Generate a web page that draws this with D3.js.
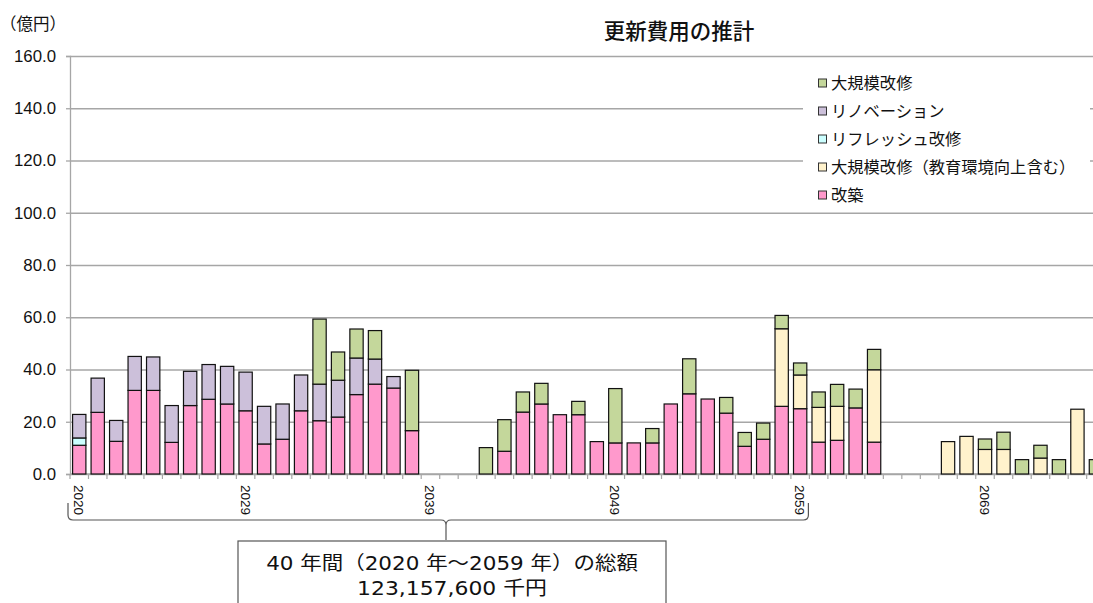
<!DOCTYPE html>
<html>
<head>
<meta charset="utf-8">
<script src="https://cdn.jsdelivr.net/npm/d3@7"></script>
<style>
  html, body { margin: 0; padding: 0; background: #fff; overflow: hidden; }
  svg { display: block; }
  .jp { font-family: "Noto Sans CJK JP", "Noto Sans", sans-serif; }
  .mix { font-family: "DejaVu Sans", "Noto Sans CJK JP", sans-serif; }
  .num { font-family: "Liberation Sans", Arial, sans-serif; }
</style>
</head>
<body>
<svg id="chart" width="1093" height="603"></svg>
<script>
// Years on the category axis (the axis runs past the visible area)
const years = d3.range(2020, 2080);

// Segment values, 億円, one entry per year starting at 2020
const kaichiku = [11.0, 23.6, 12.5, 32.0, 32.0, 12.1, 26.2, 28.6, 26.8, 24.2,
                  11.5, 13.3, 24.2, 20.4, 21.8, 30.4, 34.4, 32.9, 16.6, 0,
                  0, 0, 0, 8.7, 23.7, 26.8, 22.7, 22.7, 12.4, 11.9,
                  11.9, 11.9, 26.8, 30.7, 28.7, 23.3, 10.6, 13.3, 25.9, 25.0,
                  12.2, 12.9, 25.3, 12.2, 0, 0, 0, 0, 0, 0,
                  0, 0, 0, 0, 0, 0, 0, 0, 0, 0];
const kyouiku  = [0, 0, 0, 0, 0, 0, 0, 0, 0, 0,
                  0, 0, 0, 0, 0, 0, 0, 0, 0, 0,
                  0, 0, 0, 0, 0, 0, 0, 0, 0, 0,
                  0, 0, 0, 0, 0, 0, 0, 0, 29.7, 12.9,
                  13.3, 13.0, 0, 27.7, 0, 0, 0, 12.4, 14.4, 9.4,
                  9.4, 0, 6.1, 0, 24.8, 0, 0, 0, 0, 0];
const refresh  = [2.8, 0, 0, 0, 0, 0, 0, 0, 0, 0,
                  0, 0, 0, 0, 0, 0, 0, 0, 0, 0,
                  0, 0, 0, 0, 0, 0, 0, 0, 0, 0,
                  0, 0, 0, 0, 0, 0, 0, 0, 0, 0,
                  0, 0, 0, 0, 0, 0, 0, 0, 0, 0,
                  0, 0, 0, 0, 0, 0, 0, 0, 0, 0];
const renovation = [9.0, 13.1, 8.0, 13.0, 12.8, 14.1, 13.1, 13.3, 14.4, 14.8,
                  14.4, 13.5, 13.7, 14.0, 14.1, 14.0, 9.6, 4.4, 0, 0,
                  0, 0, 0, 0, 0, 0, 0, 0, 0, 0,
                  0, 0, 0, 0, 0, 0, 0, 0, 0, 0,
                  0, 0, 0, 0, 0, 0, 0, 0, 0, 0,
                  0, 0, 0, 0, 0, 0, 0, 0, 0, 0];
const daikibo  = [0, 0, 0, 0, 0, 0, 0, 0, 0, 0,
                  0, 0, 0, 24.9, 10.8, 11.1, 10.9, 0, 23.1, 0,
                  0, 0, 10.1, 12.1, 7.7, 7.9, 0, 5.1, 0, 20.8,
                  0, 5.5, 0, 13.4, 0, 6.0, 5.3, 6.2, 5.1, 4.6,
                  5.9, 8.4, 7.2, 7.8, 0, 0, 0, 0, 0, 4.0,
                  6.6, 5.5, 4.9, 5.5, 0, 5.5, 0, 0, 0, 0];

// Stack order bottom to top; legend lists them top to bottom (reversed)
const seriesKeys   = ["改築", "大規模改修（教育環境向上含む）", "リフレッシュ改修", "リノベーション", "大規模改修"];
const seriesValues = [kaichiku, kyouiku, refresh, renovation, daikibo];
const seriesColors = ["#ff99cc", "#fff2cc", "#ccffff", "#ccc0da", "#c4d79b"];

const yTicks = d3.range(0, 161, 20);
const labelYears = [2020, 2029, 2039, 2049, 2059, 2069];

const title = "更新費用の推計";
const unitLabel = "（億円）";
const noteLines = ["40 年間（2020 年～2059 年）の総額", "123,157,600 千円"];
const spanYears = [2020, 2059];

const rows = years.map((yr, i) => {
  const r = { year: yr };
  seriesKeys.forEach((k, j) => r[k] = seriesValues[j][i]);
  return r;
});

const svg = d3.select("#chart");
const plotLeft = 70, plotTop = 56, plotBottom = 474;
const step = 18.485;

const x = d3.scaleBand()
  .domain(years)
  .range([plotLeft, plotLeft + step * years.length])
  .paddingInner(0.28)
  .paddingOuter(0.14);

const y = d3.scaleLinear().domain([0, 160]).range([plotBottom, plotTop]);

const color = d3.scaleOrdinal().domain(seriesKeys).range(seriesColors);

// Gridlines
svg.append("g")
  .attr("transform", `translate(${plotLeft},0)`)
  .call(d3.axisLeft(y).tickValues(yTicks).tickSize(-(1093 - plotLeft)).tickFormat(""))
  .call(g => g.select(".domain").remove())
  .call(g => g.selectAll("line").attr("stroke", "#a6a6a6").attr("stroke-width", 1.3));

// Legend background hides the gridlines behind it
svg.append("rect")
  .attr("x", 803).attr("y", 66).attr("width", 287).attr("height", 143)
  .attr("fill", "#fff");

// Y axis
svg.append("g")
  .attr("transform", `translate(${plotLeft},0)`)
  .call(d3.axisLeft(y).tickValues(yTicks).tickSize(4).tickPadding(10).tickFormat(d3.format(".1f")))
  .call(g => g.select(".domain").attr("stroke", "#a6a6a6").attr("stroke-width", 1.3))
  .call(g => g.selectAll(".tick line").attr("stroke", "#a6a6a6").attr("stroke-width", 1.3))
  .call(g => g.selectAll("text")
    .attr("class", "num")
    .attr("font-size", 16.8)
    .attr("fill", "#111"));

// X axis baseline and boundary ticks
const xAxisG = svg.append("g");
xAxisG.append("line")
  .attr("x1", plotLeft).attr("x2", 1093)
  .attr("y1", plotBottom).attr("y2", plotBottom)
  .attr("stroke", "#a6a6a6").attr("stroke-width", 1.3);
xAxisG.selectAll("line.tk")
  .data(years)
  .join("line")
  .attr("class", "tk")
  .attr("x1", d => x(d) - x.step() * x.paddingInner() / 2)
  .attr("x2", d => x(d) - x.step() * x.paddingInner() / 2)
  .attr("y1", plotBottom).attr("y2", plotBottom + 5)
  .attr("stroke", "#a6a6a6").attr("stroke-width", 1.2);

// Rotated year labels
xAxisG.selectAll("text.yl")
  .data(labelYears)
  .join("text")
  .attr("class", "yl num")
  .attr("transform", d => `translate(${x(d) + x.bandwidth() / 2 - 5},${plotBottom + 11}) rotate(90)`)
  .attr("font-size", 13.5)
  .attr("fill", "#111")
  .text(d => d);

// Stacked bars
const stacked = d3.stack().keys(seriesKeys)(rows);
svg.append("g")
  .selectAll("g")
  .data(stacked)
  .join("g")
  .attr("fill", d => color(d.key))
  .selectAll("rect")
  .data(d => d.filter(s => s[1] - s[0] > 0))
  .join("rect")
  .attr("x", d => x(d.data.year))
  .attr("y", d => y(d[1]))
  .attr("width", x.bandwidth())
  .attr("height", d => y(d[0]) - y(d[1]))
  .attr("stroke", "#111")
  .attr("stroke-width", 1.2);

// Title and unit
svg.append("text")
  .attr("class", "jp")
  .attr("x", 679).attr("y", 39)
  .attr("text-anchor", "middle")
  .attr("font-size", 21.5)
  .attr("font-weight", 500)
  .attr("fill", "#111")
  .text(title);

svg.append("text")
  .attr("class", "jp")
  .attr("x", 0).attr("y", 30)
  .attr("font-size", 16.5)
  .attr("fill", "#111")
  .text(unitLabel);

// Legend
const legendKeys = seriesKeys.slice().reverse();
const lg = svg.append("g")
  .selectAll("g")
  .data(legendKeys)
  .join("g")
  .attr("transform", (d, i) => `translate(818,${83 + i * 28})`);
lg.append("rect")
  .attr("x", 0.5).attr("y", -4)
  .attr("width", 8).attr("height", 8)
  .attr("fill", d => color(d))
  .attr("stroke", "#333").attr("stroke-width", 1);
lg.append("text")
  .attr("class", "jp")
  .attr("x", 13).attr("y", 0)
  .attr("dy", "0.36em")
  .attr("font-size", 16.3)
  .attr("fill", "#111")
  .text(d => d);

// Brace spanning the forty-year period
const bx0 = x(spanYears[0]) - x.step() * x.paddingInner() / 2 - 2;
const bx1 = x(spanYears[1]) + x.bandwidth() + x.step() * x.paddingInner() / 2 - 1;
const bTop = 503, bMid = 520, bCusp = 446, bTip = 540, rr = 5;
const brace = d3.path();
brace.moveTo(bx0, bTop);
brace.lineTo(bx0, bMid - rr);
brace.quadraticCurveTo(bx0, bMid, bx0 + rr, bMid);
brace.lineTo(bCusp - rr, bMid);
brace.quadraticCurveTo(bCusp, bMid, bCusp, bMid + rr);
brace.lineTo(bCusp, bTip);
brace.moveTo(bCusp, bMid + rr);
brace.quadraticCurveTo(bCusp, bMid, bCusp + rr, bMid);
brace.lineTo(bx1 - rr, bMid);
brace.quadraticCurveTo(bx1, bMid, bx1, bMid - rr);
brace.lineTo(bx1, bTop);
svg.append("path")
  .attr("d", brace.toString())
  .attr("fill", "none")
  .attr("stroke", "#555")
  .attr("stroke-width", 1.2);

// Note box
svg.append("rect")
  .attr("x", 238).attr("y", 541)
  .attr("width", 428).attr("height", 80)
  .attr("fill", "#fff")
  .attr("stroke", "#555").attr("stroke-width", 1.2);

// Note text: widened glyphs, scaled horizontally to the line widths
const noteWidths = [372, 190];
const noteCx = 452;
svg.append("g")
  .selectAll("text")
  .data(noteLines)
  .join("text")
  .attr("class", "mix")
  .attr("x", 0)
  .attr("y", 0)
  .attr("font-size", 19)
  .attr("text-anchor", "middle")
  .attr("fill", "#111")
  .text(d => d)
  .each(function (d, i) {
    const w = this.getComputedTextLength();
    const sx = w > 0 ? noteWidths[i] / w : 1;
    d3.select(this).attr("transform", `translate(${noteCx},${570 + i * 24.5}) scale(${sx},1)`);
  });
</script>
</body>
</html>
